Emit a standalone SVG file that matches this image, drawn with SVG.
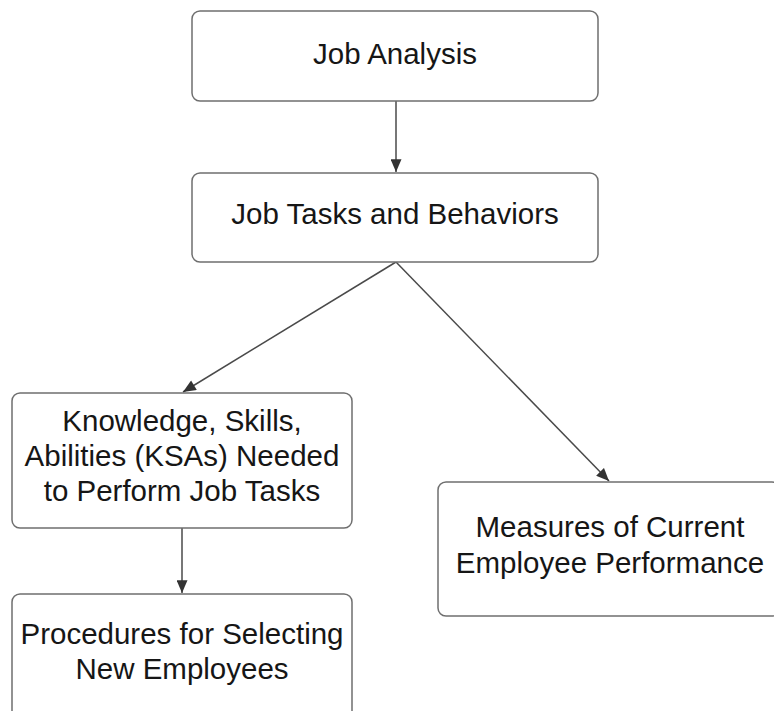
<svg xmlns="http://www.w3.org/2000/svg" width="774" height="711" viewBox="0 0 774 711">
  <style>
    .box { fill: #ffffff; stroke: #6f6f6f; stroke-width: 1.5; }
    .lbl { font-family: "Liberation Sans", Arial, sans-serif; font-size: 29.5px; fill: #161616; text-anchor: middle; }
    .edge { stroke: #4a4a4a; stroke-width: 1.5; fill: none; marker-end: url(#arrow); }
  </style>
  <defs>
    <marker id="arrow" viewBox="0 0 14 12" refX="14" refY="6" markerWidth="14" markerHeight="11" markerUnits="userSpaceOnUse" orient="auto">
      <path d="M0,0 L14,6 L0,12 Z" fill="#333333"/>
    </marker>
  </defs>
  <rect width="774" height="711" fill="#ffffff"/>

  <g id="connectors">
    <line class="edge" x1="396" y1="101" x2="396" y2="172"/>
    <line class="edge" x1="396" y1="262" x2="183" y2="392"/>
    <line class="edge" x1="396" y1="262" x2="609" y2="481"/>
    <line class="edge" x1="182" y1="528" x2="182" y2="593"/>
  </g>

  <g id="job-analysis">
    <rect class="box" x="192" y="11" width="406" height="90" rx="8"/>
    <text class="lbl" x="395" y="64">Job Analysis</text>
  </g>

  <g id="job-tasks">
    <rect class="box" x="192" y="173" width="406" height="89" rx="8"/>
    <text class="lbl" x="395" y="224">Job Tasks and Behaviors</text>
  </g>

  <g id="ksas">
    <rect class="box" x="12" y="393" width="340" height="135" rx="8"/>
    <text class="lbl" x="182" y="431">Knowledge, Skills,</text>
    <text class="lbl" x="182" y="466">Abilities (KSAs) Needed</text>
    <text class="lbl" x="182" y="501">to Perform Job Tasks</text>
  </g>

  <g id="procedures">
    <rect class="box" x="12" y="594" width="340" height="130" rx="8"/>
    <text class="lbl" x="182" y="644">Procedures for Selecting</text>
    <text class="lbl" x="182" y="679">New Employees</text>
  </g>

  <g id="measures">
    <rect class="box" x="438" y="482" width="342" height="134" rx="8"/>
    <text class="lbl" x="610" y="537">Measures of Current</text>
    <text class="lbl" x="610" y="573">Employee Performance</text>
  </g>
</svg>
